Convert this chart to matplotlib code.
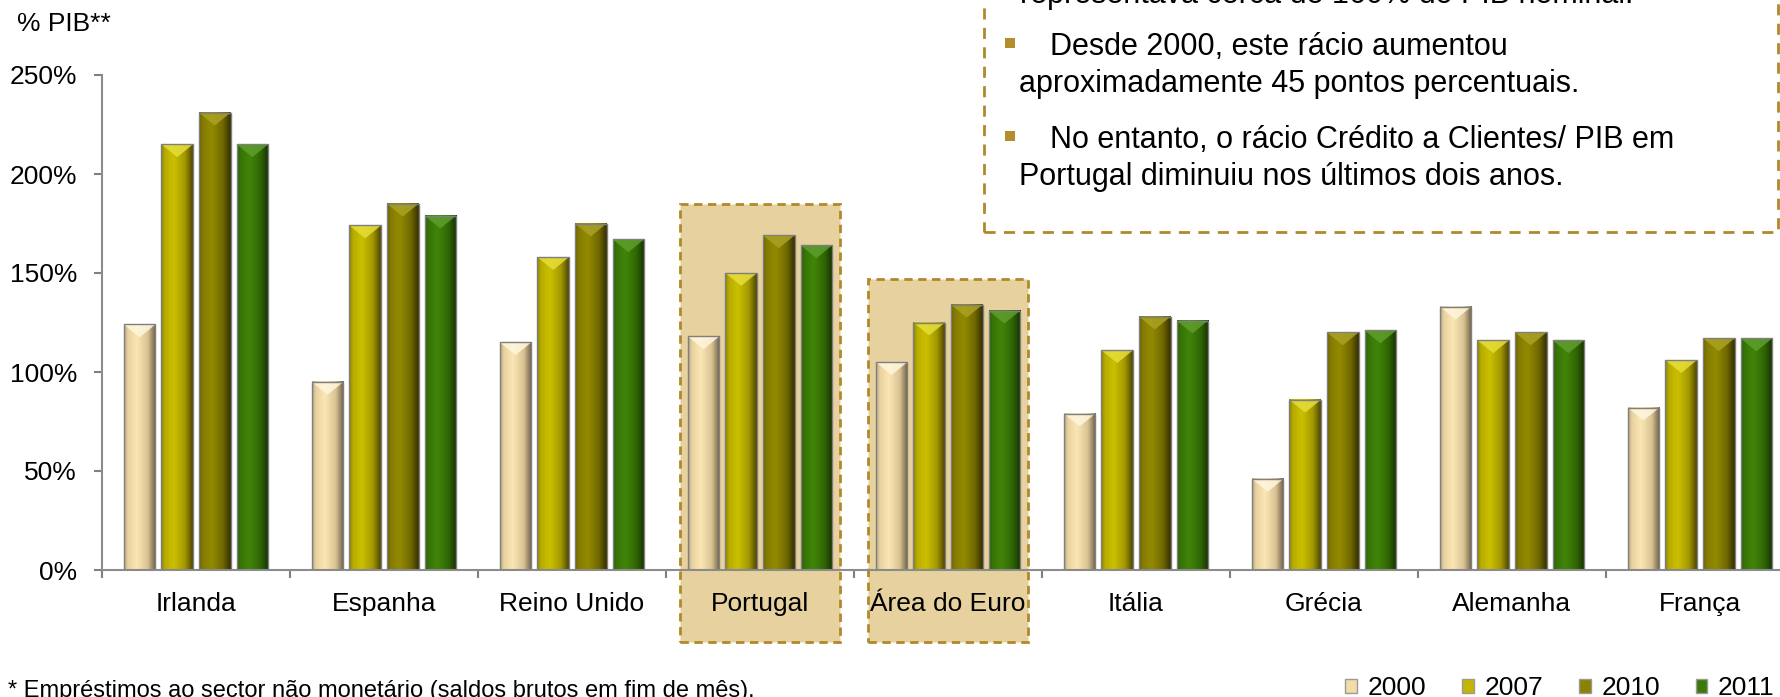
#!/usr/bin/env python3
# -*- coding: utf-8 -*-

import numpy as np
import matplotlib
matplotlib.use("Agg")
from matplotlib import pyplot as plt
from matplotlib.patches import Rectangle, Polygon, Patch
from matplotlib.colors import to_rgb

plt.rcParams['font.family'] = ['Liberation Sans', 'DejaVu Sans']

countries = ['Irlanda', 'Espanha', 'Reino Unido', 'Portugal', 'Área do Euro',
             'Itália', 'Grécia', 'Alemanha', 'França']
years = ['2000', '2007', '2010', '2011']
v2000 = [124, 95, 115, 118, 105, 79, 46, 133, 82]
v2007 = [215, 174, 158, 150, 125, 111, 86, 116, 106]
v2010 = [231, 185, 175, 169, 134, 128, 120, 120, 117]
v2011 = [215, 179, 167, 164, 131, 126, 121, 116, 117]
series = [v2000, v2007, v2010, v2011]

# highlighted groups and how high their shaded box reaches (% PIB)
highlight = {'Portugal': 185, 'Área do Euro': 147}

colors = ['#F2DCA8', '#C2B600', '#8A8200', '#3B7A06']
shades = [['#B9A57F', '#E8D3A0', '#FBE6B4', '#D9C394', '#6E5F45'],
          ['#8C8200', '#B8AC00', '#CCC000', '#A39800', '#4F4800'],
          ['#6A6200', '#857C00', '#938A00', '#706800', '#363000'],
          ['#2C5E04', '#377506', '#418508', '#2F6405', '#163003']]
tops = ['#FFF6DC', '#E6DE3A', '#ABA224', '#5E9E2C']

W, H = 1781, 697
fig = plt.figure(figsize=(W / 100, H / 100), dpi=100)
ax = fig.add_axes([102 / W, 1 - 570 / H, 1692 / W, 495 / H])

def gradient(stops, n=64):
    t = np.linspace(0, 1, n)
    pos = [0, 0.12, 0.4, 0.75, 1.0]
    rgb = np.array([to_rgb(c) for c in stops])
    return np.stack([np.interp(t, pos, rgb[:, j]) for j in range(3)], axis=-1)[None, :, :]

x = np.arange(len(countries))
bw, step = 0.168, 0.2
for k, vals in enumerate(series):
    bars = ax.bar(x + (k - 1.5) * step, vals, bw, fill=False,
                  edgecolor='#7F7F7F', linewidth=1, zorder=3)
    grad = gradient(shades[k])
    for b in bars:
        x0, w, h = b.get_x(), b.get_width(), b.get_height()
        ax.imshow(grad, extent=[x0, x0 + w, 0, h], aspect='auto',
                  interpolation='bicubic', zorder=2)
        ax.add_patch(Polygon([[x0, h], [x0 + w, h], [x0 + w / 2, h - 6.5]],
                             closed=True, facecolor=tops[k], edgecolor='none',
                             alpha=0.85, zorder=2.5))

for name, top in highlight.items():
    i = countries.index(name)
    ax.add_patch(Rectangle((i - 0.425, -36.5), 0.85, top + 36.5,
                           facecolor='#E7D19F', edgecolor='#B08A2A',
                           linestyle=(0, (3, 2)), linewidth=2,
                           clip_on=False, zorder=0.5))

ax.set_xlim(-0.5, len(countries) - 0.5)
ax.set_ylim(0, 250)
ax.set_yticks(np.arange(0, 251, 50))
ax.set_yticklabels(['{:d}%'.format(v) for v in range(0, 251, 50)], fontsize=19)
ax.set_xticks(x)
ax.set_xticklabels(countries, fontsize=19)
ax.set_xticks(np.arange(-0.5, len(countries), 1), minor=True)
ax.tick_params(axis='x', which='major', length=0, pad=16)
ax.tick_params(axis='x', which='minor', length=6, color='#808080', width=1.5)
ax.tick_params(axis='y', length=6, color='#808080', width=1.5, pad=12)
for s in ['top', 'right']:
    ax.spines[s].set_visible(False)
for s in ['left', 'bottom']:
    ax.spines[s].set_color('#8C8C8C')
    ax.spines[s].set_linewidth(1.5)
ax.patch.set_alpha(0)

fig.text(17 / W, 1 - 24 / H, '% PIB**', fontsize=19, va='center')

# comment box at the top right
fig.patches.append(Rectangle((984 / W, 1 - 232 / H), 794 / W, 300 / H,
                             transform=fig.transFigure, facecolor='white',
                             edgecolor='#B08A2A', linestyle=(0, (4, 3)),
                             linewidth=2, zorder=1))
lines = [(1020, 3, 'representava cerca de 160% do PIB nominal.'),
         (1050, 55, 'Desde 2000, este rácio aumentou'),
         (1019, 92, 'aproximadamente 45 pontos percentuais.'),
         (1050, 148, 'No entanto, o rácio Crédito a Clientes/ PIB em'),
         (1019, 185, 'Portugal diminuiu nos últimos dois anos.')]
for px, py, s in lines:
    fig.text(px / W, 1 - py / H, s, fontsize=22, va='baseline', zorder=2)
for py in [43, 136]:
    fig.patches.append(Rectangle((1005 / W, 1 - (py + 5) / H), 10 / W, 10 / H,
                                 transform=fig.transFigure, facecolor='#B38E2C',
                                 edgecolor='none', zorder=2))

fig.text(8 / W, 1 - 697 / H, '* Empréstimos ao sector não monetário (saldos brutos em fim de mês).',
         fontsize=17, va='baseline')

handles = [Patch(facecolor=c, edgecolor='#9A9A9A') for c in colors]
fig.legend(handles, years, loc='center', bbox_to_anchor=(1560 / W, 1 - 688 / H),
           ncol=4, frameon=False, fontsize=19, handlelength=0.45,
           handleheight=0.45, handletextpad=0.4, columnspacing=1.35,
           borderpad=0, borderaxespad=0)

fig.savefig('out.png', dpi=100)
